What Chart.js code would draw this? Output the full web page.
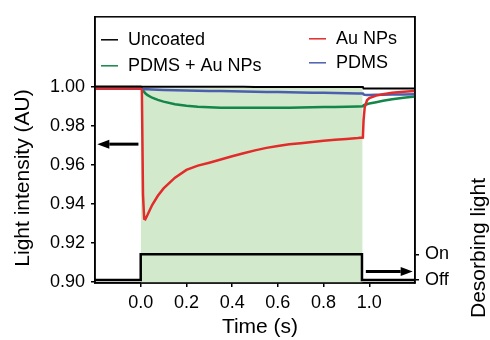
<!DOCTYPE html>
<html>
<head>
<meta charset="utf-8">
<script src="https://cdn.jsdelivr.net/npm/chart.js@4/dist/chart.umd.min.js"></script>
<style>
  body { margin: 0; background: #fff; }
  canvas { display: block; }
</style>
</head>
<body>
<canvas id="chart" width="490" height="340"></canvas>
<script>
// time axis (s) shared by the four intensity traces
const timeS = [-0.2, -0.1, 0, 0.005, 0.01, 0.015, 0.02, 0.03, 0.05, 0.075, 0.1, 0.15, 0.2, 0.25, 0.3, 0.35,
  0.4, 0.45, 0.5, 0.55, 0.6, 0.65, 0.7, 0.75, 0.8, 0.85, 0.9, 0.95, 0.972, 0.975, 0.98, 0.99, 1.0, 1.03,
  1.06, 1.1, 1.15, 1.2];

const uncoated = [1.0003, 1.0003, 1.0003, 1.0001, 1.0001, 1.0001, 1.0001, 1.0001, 1.0001, 1.0001, 1.0001,
  1.0001, 1.0001, 1.0001, 1.0001, 1.0001, 1.0001, 1.0001, 1.0000, 1.0000, 1.0000, 1.0000, 1.0000, 1.0000,
  1.0000, 1.0000, 1.0000, 1.0000, 1.0000, 0.9992, 0.9992, 0.9992, 0.9992, 0.9992, 0.9992, 0.9992, 0.9992, 0.9992];

const auNPs = [0.9992, 0.9992, 0.9992, 0.9985, 0.945, 0.9325, 0.9322, 0.9345, 0.9395, 0.9442, 0.948, 0.9535,
  0.9575, 0.9597, 0.9612, 0.9628, 0.9645, 0.9660, 0.9675, 0.9688, 0.9698, 0.9706, 0.9712, 0.9718, 0.9724,
  0.9729, 0.9734, 0.9738, 0.9741, 0.983, 0.9895, 0.9932, 0.9943, 0.9956, 0.9963, 0.9970, 0.9976, 0.9979];

const pdmsAu = [0.9996, 0.9996, 0.9996, 0.9992, 0.9982, 0.9975, 0.9968, 0.9958, 0.9945, 0.9934, 0.9925, 0.9912,
  0.9904, 0.9899, 0.9896, 0.9894, 0.9893, 0.9893, 0.9893, 0.9893, 0.9894, 0.9894, 0.9895, 0.9896, 0.9897,
  0.9898, 0.9899, 0.9900, 0.9901, 0.9906, 0.9909, 0.9912, 0.9915, 0.9922, 0.9929, 0.9937, 0.9945, 0.9951];

const pdms = [0.9991, 0.9991, 0.9991, 0.9990, 0.9989, 0.9989, 0.9988, 0.9988, 0.9987, 0.9986, 0.9985, 0.9984,
  0.9982, 0.9981, 0.9980, 0.9979, 0.9978, 0.9977, 0.9976, 0.9975, 0.9974, 0.9973, 0.9972, 0.9971, 0.9970,
  0.9969, 0.9968, 0.9967, 0.9967, 0.9962, 0.9960, 0.9959, 0.9959, 0.9960, 0.9960, 0.9961, 0.9962, 0.9963];

// desorbing light on/off (right axis)
const lightT = [-0.2, 0, 0, 0.968, 0.968, 1.2];
const lightState = [0, 0, 1, 1, 0, 0];
const stateLabels = ['Off', 'On'];

// shaded "light on" window
const shadeT = [0, 0.971];
const shadeTop = [0.9995, 0.9995];

// arrows pointing to their axes
const leftArrowX = [-0.01, -0.19];
const leftArrowY = 0.9707;
const rightArrowX = [0.985, 1.19];
const rightArrowState = 0.33;

const xTicks = [0, 0.2, 0.4, 0.6, 0.8, 1.0];
const yTicks = [0.90, 0.92, 0.94, 0.96, 0.98, 1.00];

const FONT = '"Liberation Sans", Arial, Helvetica, sans-serif';
Chart.defaults.font.family = FONT;
Chart.defaults.color = '#000';

function pts(xs, ys) {
  return xs.map((x, i) => ({ x: x, y: ys[i] }));
}

const series = [
  { label: 'Uncoated', data: pts(timeS, uncoated), borderColor: '#000000', borderWidth: 2 },
  { label: 'Au NPs', data: pts(timeS, auNPs), borderColor: '#e22b2b', borderWidth: 2.5 },
  { label: 'PDMS', data: pts(timeS, pdms), borderColor: '#4c5eae', borderWidth: 2.5 },
  { label: 'PDMS + Au NPs', data: pts(timeS, pdmsAu), borderColor: '#138649', borderWidth: 2.5 },
];

const datasets = series.map(s => Object.assign({ pointRadius: 0, tension: 0, fill: false, yAxisID: 'y' }, s));
datasets.push({
  label: 'Desorbing light', data: pts(lightT, lightState), borderColor: '#000', borderWidth: 2.5,
  pointRadius: 0, fill: false, yAxisID: 'y2'
});
datasets.push({
  label: 'shade', data: pts(shadeT, shadeTop), borderWidth: 0, borderColor: 'rgba(0,0,0,0)',
  backgroundColor: '#d3e9cb', fill: 'start', pointRadius: 0, yAxisID: 'y'
});

function drawArrow(ctx, x1, y1, x2, y2) {
  const ang = Math.atan2(y2 - y1, x2 - x1);
  const hl = 12, hw = 4.5;
  const bx = x2 - hl * Math.cos(ang), by = y2 - hl * Math.sin(ang);
  ctx.beginPath();
  ctx.moveTo(x1, y1);
  ctx.lineTo(bx, by);
  ctx.lineWidth = 3;
  ctx.strokeStyle = '#000';
  ctx.stroke();
  ctx.beginPath();
  ctx.moveTo(x2, y2);
  ctx.lineTo(bx + hw * Math.sin(ang), by - hw * Math.cos(ang));
  ctx.lineTo(bx - hw * Math.sin(ang), by + hw * Math.cos(ang));
  ctx.closePath();
  ctx.fillStyle = '#000';
  ctx.fill();
}

const decorations = {
  id: 'decorations',
  afterDraw(chart) {
    const ctx = chart.ctx;
    const a = chart.chartArea;
    const sx = chart.scales.x, sy = chart.scales.y, s2 = chart.scales.y2;
    ctx.save();

    // frame
    ctx.strokeStyle = '#000';
    ctx.lineWidth = 1.5;
    ctx.strokeRect(a.left, a.top, a.right - a.left, a.bottom - a.top);

    // arrows
    drawArrow(ctx, sx.getPixelForValue(leftArrowX[0]), sy.getPixelForValue(leftArrowY),
      sx.getPixelForValue(leftArrowX[1]), sy.getPixelForValue(leftArrowY));
    drawArrow(ctx, sx.getPixelForValue(rightArrowX[0]), s2.getPixelForValue(rightArrowState),
      sx.getPixelForValue(rightArrowX[1]), s2.getPixelForValue(rightArrowState));

    // legend, two columns inside the plot
    const order = [[0, 3], [1, 2]];
    const colX = [a.left + 6, a.left + 214];
    const rowY = [[a.top + 23, a.top + 49], [a.top + 22, a.top + 46]];
    ctx.font = '18px ' + FONT;
    ctx.textBaseline = 'middle';
    ctx.textAlign = 'left';
    order.forEach((col, c) => {
      col.forEach((di, r) => {
        const ds = chart.data.datasets[di];
        const y = rowY[c][r];
        ctx.beginPath();
        ctx.moveTo(colX[c], y);
        ctx.lineTo(colX[c] + 17, y);
        ctx.lineWidth = 1.5;
        ctx.strokeStyle = ds.borderColor;
        ctx.stroke();
        ctx.fillStyle = '#000';
        ctx.fillText(ds.label, colX[c] + 27, y);
      });
    });

    // axis titles
    ctx.font = '21px ' + FONT;
    ctx.textAlign = 'center';
    ctx.textBaseline = 'alphabetic';
    ctx.fillText('Time (s)', 260, 333);

    ctx.save();
    ctx.translate(29, 178);
    ctx.rotate(-Math.PI / 2);
    ctx.fillText('Light intensity (AU)', 0, 0);
    ctx.restore();

    ctx.save();
    ctx.translate(485, 248);
    ctx.rotate(-Math.PI / 2);
    ctx.fillText('Desorbing light', 0, 0);
    ctx.restore();

    ctx.restore();
  }
};

const axisCommon = {
  grid: { display: true, drawOnChartArea: false, drawTicks: true, tickLength: 4, color: '#000', lineWidth: 1.5 },
  border: { display: true, color: '#000', width: 1.5 },
};

new Chart(document.getElementById('chart'), {
  type: 'line',
  data: { datasets: datasets },
  options: {
    responsive: false,
    animation: false,
    parsing: true,
    layout: { padding: { top: 14, left: 0, right: 0, bottom: 0 } },
    plugins: { legend: { display: false }, tooltip: { enabled: false } },
    scales: {
      x: Object.assign({}, axisCommon, {
        type: 'linear', min: -0.2, max: 1.2,
        afterBuildTicks: s => { s.ticks = xTicks.map(v => ({ value: v })); },
        afterFit: s => { s.height = 57; },
        ticks: { font: { size: 18 }, padding: 5, callback: v => v.toFixed(1) }
      }),
      y: Object.assign({}, axisCommon, {
        position: 'left', min: 0.8995, max: 1.036,
        afterBuildTicks: s => { s.ticks = yTicks.map(v => ({ value: v })); },
        afterFit: s => { s.width = 95; },
        ticks: { font: { size: 18 }, padding: 6, callback: v => v.toFixed(2) }
      }),
      y2: Object.assign({}, axisCommon, {
        position: 'right', min: -0.115, max: 10.23,
        afterBuildTicks: s => { s.ticks = [0, 1].map(v => ({ value: v })); },
        afterFit: s => { s.width = 75; },
        ticks: { font: { size: 18 }, padding: 6, callback: v => stateLabels[v] }
      })
    }
  },
  plugins: [decorations]
});
</script>
</body>
</html>
